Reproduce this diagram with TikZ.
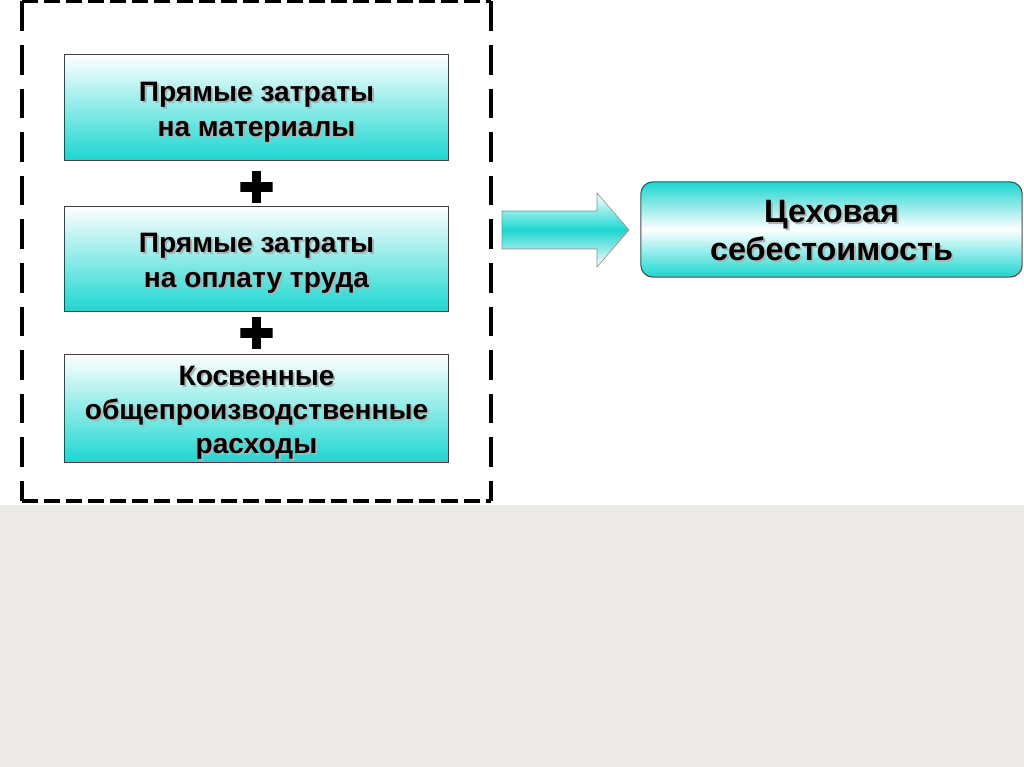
\documentclass[tikz,border=0pt]{standalone}
\usepackage{fontspec}
\setmainfont{Liberation Sans}
\usetikzlibrary{positioning, calc}
\definecolor{boxcyan}{RGB}{28,214,208}
\definecolor{paper}{RGB}{236,235,232}
% text with a soft grey drop shadow, set a little low
\newcommand\shtext[1]{\raisebox{-3pt}[\height][\depth]{\rlap{\raisebox{-1.4pt}[0pt][0pt]{\hspace{1.4pt}\color{black!30}\begin{tabular}{@{}c@{}}#1\end{tabular}}}\begin{tabular}{@{}c@{}}#1\end{tabular}}}
\tikzset{
	node distance=1.1cm,
	costbox/.style={draw=black!75, line width=0.8pt, top color=white, bottom color=boxcyan, minimum width=9.58cm, minimum height=2.63cm, inner sep=2pt, font=\bfseries\fontsize{20}{25}\selectfont},
	resbox/.style={draw=black!70, line width=0.8pt, rounded corners=0.3cm, top color=boxcyan, bottom color=boxcyan, middle color=white, minimum width=9.53cm, minimum height=2.38cm, inner sep=2pt, font=\bfseries\fontsize{23}{27}\selectfont},
	plussign/.style={minimum size=0.8cm, inner sep=0pt, path picture={\draw[line width=7pt] (path picture bounding box.north) -- (path picture bounding box.south) (path picture bounding box.west) -- (path picture bounding box.east);}},
	framedash/.style={line width=2.5pt, dash pattern=on 11.4pt off 4.3pt},
	framedashv/.style={line width=2.5pt, dash pattern=on 21pt off 10pt}
}

\begin{document}
\begin{tikzpicture}[x=0.025cm,y=-0.025cm]
\useasboundingbox (0,0) rectangle (1024,767);
\fill[white] (0,0) rectangle (1024,505);
\fill[paper] (0,505) rectangle (1024,767);
% dashed frame
\draw[framedash] (22,1.5) -- (491,1.5);
\draw[framedash] (22,501) -- (491,501);
\draw[framedashv] (22,1.5) -- (22,501);
\draw[framedashv] (491,1.5) -- (491,501);
% cost items
\node (mat) [costbox] at (256.5,107.5) {\shtext{Прямые затраты\\на материалы}};
\node (lab) [costbox, below=1.125cm of mat] {\shtext{Прямые затраты\\на оплату труда}};
\node (ovh) [costbox, below=1.05cm of lab, minimum height=2.7cm, font=\bfseries\fontsize{20}{24}\selectfont] {\shtext{Косвенные\\общепроизводственные\\расходы}};
\node (plus1) [plussign] at ($(mat.south)!0.5!(lab.north)+(0,3.5)$) {};
\node (plus2) [plussign] at ($(lab.south)!0.5!(ovh.north)$) {};
% result
\node (res) [resbox] at (831.5,229.5) {\shtext{Цеховая\\себестоимость}};
\shade[draw=black!45, top color=white, bottom color=white, middle color=boxcyan] (502,211) -- (597,211) -- (597,193) -- (629,230) -- (597,267) -- (597,249) -- (502,249) -- cycle;
\end{tikzpicture}
\end{document}
